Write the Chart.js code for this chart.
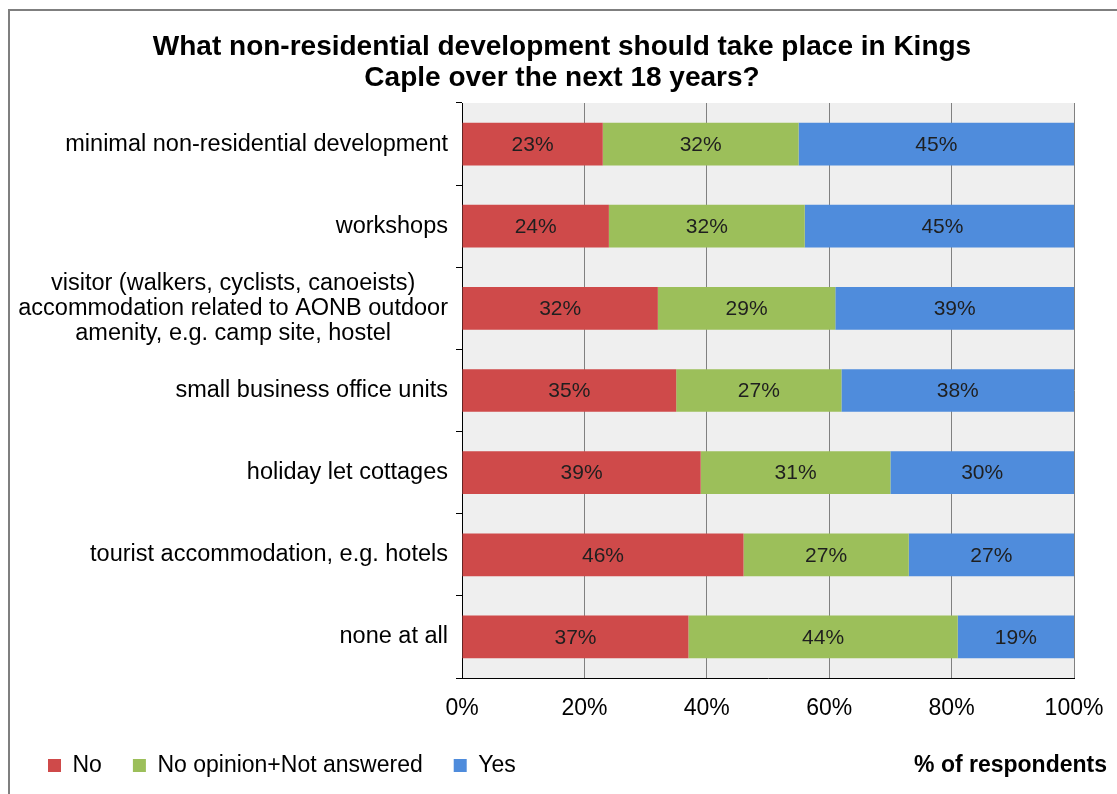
<!DOCTYPE html>
<html>
<head>
<meta charset="utf-8">
<title>Kings Caple - non-residential development</title>
<script src="https://cdn.jsdelivr.net/npm/chart.js@4/dist/chart.umd.min.js"></script>
<style>
  html, body { margin: 0; padding: 0; background: #fff; }
  #wrap { position: relative; width: 1117px; height: 794px; }
</style>
</head>
<body>
<div id="wrap"><canvas id="chart"></canvas></div>
<script>
var FONT = '"Liberation Sans", Arial, sans-serif';

var titleLines = [
	'What non-residential development should take place in Kings',
	'Caple over the next 18 years?'
];

var categories = [
	'minimal non-residential development',
	'workshops',
	['visitor (walkers, cyclists, canoeists)', 'accommodation related to AONB outdoor', 'amenity, e.g. camp site, hostel'],
	'small business office units',
	'holiday let cottages',
	'tourist accommodation, e.g. hotels',
	'none at all'
];

// % of respondents per answer
var noValues        = [23, 24, 32, 35, 39, 46, 37];
var noOpinionValues = [32, 32, 29, 27, 31, 27, 44];
var yesValues       = [45, 45, 39, 38, 30, 27, 19];

var xTickStep = 20;
var xMax = 100;
var axisCaption = '% of respondents';

// White page, the chart frame and the grey plot area
var backgroundPlugin = {
	id: 'background',
	beforeDraw: function(chart) {
		var ctx = chart.ctx, a = chart.chartArea;
		ctx.save();
		ctx.fillStyle = '#ffffff';
		ctx.fillRect(0, 0, chart.width, chart.height);
		ctx.strokeStyle = '#7f7f7f';
		ctx.lineWidth = 2;
		ctx.beginPath();
		ctx.moveTo(9, chart.height);
		ctx.lineTo(9, 10);
		ctx.lineTo(chart.width, 10);
		ctx.stroke();
		ctx.fillStyle = '#efefef';
		ctx.fillRect(a.left, a.top, a.right - a.left, a.bottom - a.top);
		ctx.restore();
	}
};

// Title, category labels (multi-line ones centred on each other) and axis caption
var textPlugin = {
	id: 'texts',
	afterDraw: function(chart) {
		var ctx = chart.ctx, a = chart.chartArea;
		var yScale = chart.scales.y;
		ctx.save();
		ctx.fillStyle = '#000';
		ctx.textBaseline = 'middle';

		ctx.font = 'bold 28px ' + FONT;
		ctx.textAlign = 'center';
		titleLines.forEach(function(line, i) {
			ctx.fillText(line, 562, 47 + i * 31);
		});

		ctx.font = '23.5px ' + FONT;
		var right = a.left - 14;
		categories.forEach(function(label, i) {
			var lines = Array.isArray(label) ? label : [label];
			var y = yScale.getPixelForValue(i);
			var maxW = 0;
			lines.forEach(function(l) { maxW = Math.max(maxW, ctx.measureText(l).width); });
			ctx.textAlign = 'center';
			lines.forEach(function(l, j) {
				ctx.fillText(l, right - maxW / 2, y + (j - (lines.length - 1) / 2) * 25);
			});
		});

		var legend = chart.legend;
		ctx.font = 'bold 23px ' + FONT;
		ctx.textAlign = 'right';
		ctx.fillText(axisCaption, 1107, legend.top + 43);
		ctx.restore();
	}
};

// Value labels in the middle of each segment
var valueLabelPlugin = {
	id: 'valueLabels',
	afterDatasetsDraw: function(chart) {
		var ctx = chart.ctx;
		ctx.save();
		ctx.font = '21px ' + FONT;
		ctx.fillStyle = '#1f1f1f';
		ctx.textAlign = 'center';
		ctx.textBaseline = 'middle';
		chart.data.datasets.forEach(function(ds, di) {
			chart.getDatasetMeta(di).data.forEach(function(bar, i) {
				var x = (bar.x + bar.base) / 2;
				ctx.fillText(ds.data[i] + '%', x, bar.y + 1);
			});
		});
		ctx.restore();
	}
};

var chart = new Chart(document.getElementById('chart').getContext('2d'), {
	type: 'bar',
	data: {
		labels: categories,
		datasets: [
			{ label: 'No', data: noValues, backgroundColor: '#cf4a4a' },
			{ label: 'No opinion+Not answered', data: noOpinionValues, backgroundColor: '#9cbf5a' },
			{ label: 'Yes', data: yesValues, backgroundColor: '#4f8cdc' }
		]
	},
	options: {
		indexAxis: 'y',
		responsive: true,
		maintainAspectRatio: false,
		animation: false,
		categoryPercentage: 1,
		barPercentage: 0.52,
		layout: {
			padding: { top: 103, left: 17, right: 43, bottom: 7 }
		},
		scales: {
			x: {
				stacked: true,
				min: 0,
				max: xMax,
				ticks: {
					stepSize: xTickStep,
					padding: 17,
					color: '#000',
					font: { family: FONT, size: 23 },
					callback: function(v) { return v + '%'; }
				},
				grid: { color: '#808080', lineWidth: 1, drawTicks: false },
				border: { display: true, color: '#000', width: 1 },
				afterFit: function(scale) {
					scale.height = 45;
					// the layout padding already leaves room for the "100%" label
					scale.paddingLeft = 0;
					scale.paddingRight = 0;
				}
			},
			y: {
				stacked: true,
				ticks: { display: false },
				grid: { drawOnChartArea: false, drawTicks: true, tickLength: 6, color: '#000', offset: true },
				border: { display: true, color: '#000', width: 1 },
				afterFit: function(scale) { scale.width = 445; }
			}
		},
		plugins: {
			title: { display: false },
			tooltip: { enabled: false },
			legend: {
				position: 'bottom',
				align: 'start',
				labels: {
					boxWidth: 13,
					boxHeight: 13,
					padding: 31,
					color: '#000',
					font: { family: FONT, size: 23 }
				}
			}
		}
	},
	plugins: [backgroundPlugin, valueLabelPlugin, textPlugin]
});
</script>
</body>
</html>
